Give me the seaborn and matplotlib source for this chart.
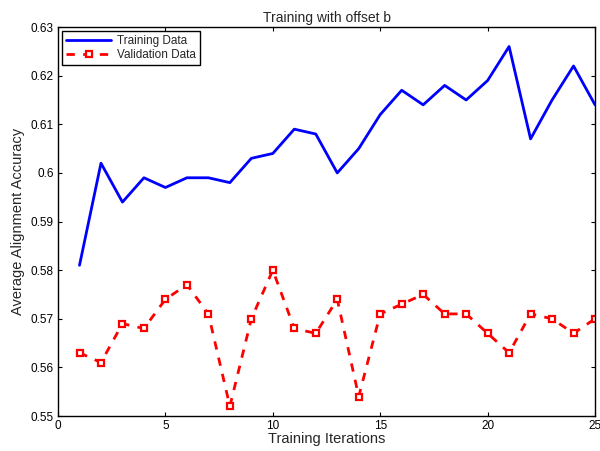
import numpy as np
import pandas as pd
import matplotlib
matplotlib.use("Agg")
import matplotlib.pyplot as plt
import seaborn as sns

iterations = list(range(1, 26))
training = [0.581, 0.602, 0.594, 0.599, 0.597, 0.599, 0.599, 0.598, 0.603, 0.604,
            0.609, 0.608, 0.600, 0.605, 0.612, 0.617, 0.614, 0.618, 0.615, 0.619,
            0.626, 0.607, 0.615, 0.622, 0.614]
validation = [0.563, 0.561, 0.569, 0.568, 0.574, 0.577, 0.571, 0.552, 0.570, 0.580,
              0.568, 0.567, 0.574, 0.554, 0.571, 0.573, 0.575, 0.571, 0.571, 0.567,
              0.563, 0.571, 0.570, 0.567, 0.570]
x_ticks = [0, 5, 10, 15, 20, 25]
y_ticks = [0.55, 0.56, 0.57, 0.58, 0.59, 0.6, 0.61, 0.62, 0.63]
y_tick_labels = ["0.55", "0.56", "0.57", "0.58", "0.59", "0.6", "0.61", "0.62", "0.63"]

sns.set_style("ticks")
plt.rcParams["font.family"] = ["Liberation Sans", "DejaVu Sans"]

df = pd.DataFrame({"it": iterations, "train": training, "val": validation})

fig = plt.figure(figsize=(6, 4.51), dpi=100)
ax = fig.add_axes([0.0967, 0.0776, 0.895, 0.8624])

sns.lineplot(data=df, x="it", y="train", ax=ax, color="#0000ff", lw=2,
             label="Training Data")
sns.lineplot(data=df, x="it", y="val", ax=ax, color="#ff0000", lw=2,
             linestyle=(0, (3, 3)), marker="s", markersize=5,
             markerfacecolor="white", markeredgecolor="#ff0000", markeredgewidth=1.6,
             label="Validation Data")

ax.set_xlim(0, 25)
ax.set_ylim(0.55, 0.63)
ax.set_xticks(x_ticks)
ax.set_yticks(y_ticks)
ax.set_yticklabels(y_tick_labels)
ax.tick_params(direction="in", top=True, right=True, labelsize=8.5, length=3,
               width=0.8, colors="black", pad=3)
for s in ax.spines.values():
    s.set_visible(True)
    s.set_linewidth(1.0)
    s.set_color("black")

ax.set_xlabel("Training Iterations", fontsize=10.5, labelpad=0)
ax.set_ylabel("Average Alignment Accuracy", fontsize=10.5, labelpad=4)
ax.set_title("Training with offset b", fontsize=10, pad=4)

leg = ax.legend(loc="upper left", fontsize=8.5, frameon=True, fancybox=False,
                edgecolor="black", borderaxespad=0.35, handlelength=3.8,
                borderpad=0.35, labelspacing=0.15, handletextpad=0.5)
leg.get_frame().set_linewidth(1.0)
leg.get_frame().set_alpha(1)

fig.savefig("out.png", dpi=100)
